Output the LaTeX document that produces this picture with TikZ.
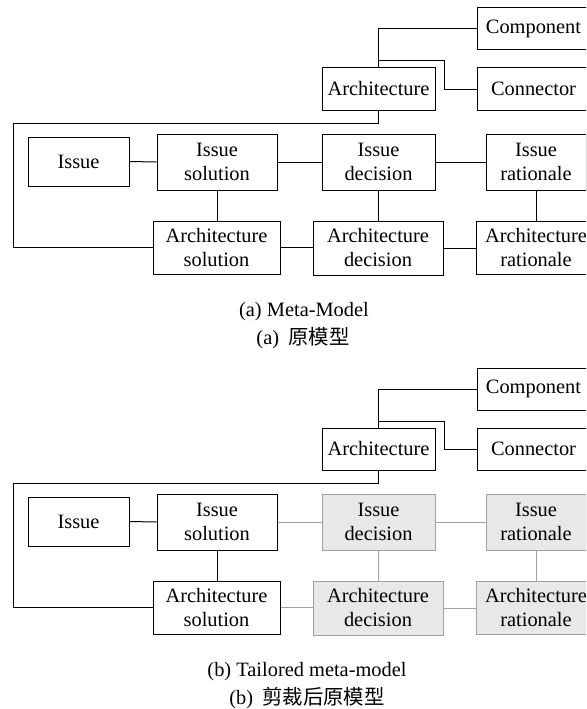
\documentclass[tikz,border=0pt]{standalone}
\usepackage{fontspec}
\setmainfont{Liberation Serif}
\newfontfamily\cjk{Noto Sans CJK SC}
\definecolor{tailorfill}{HTML}{E8E8E8}
\definecolor{tailorline}{HTML}{A0A0A0}
\tikzset{
  elem/.style={draw=black, line width=1pt, fill=white, inner sep=0pt, align=center,
    font=\fontsize{20.4}{24}\selectfont},
  link/.style={draw=black, line width=1pt},
  kept/.style={},
  cut/.style={draw=tailorline, fill=tailorfill},
  keptlink/.style={},
  cutlink/.style={draw=tailorline},
  caption/.style={anchor=base, inner sep=0pt, font=\fontsize{20.4}{24}\selectfont},
}
% #1 node prefix, #2 style of the decision/rationale boxes, #3 style of their links
\newcommand\metamodelpanel[3]{%
  \node[elem, minimum width=113pt, minimum height=42pt] (#1arch) at (378.5,89) {Architecture};
  \node[elem, minimum width=113pt, minimum height=42pt] (#1comp) at (533.5,29) {Component};
  \node[elem, minimum width=113pt, minimum height=42pt] (#1conn) at (533.5,89) {Connector};
  \node[elem, minimum width=101pt, minimum height=49pt] (#1issue) at (78.5,161.5) {Issue};
  \node[elem, minimum width=120pt, minimum height=56pt] (#1isol) at (217,162) {Issue\\solution};
  \node[elem, #2, minimum width=113pt, minimum height=56pt] (#1idec) at (378.5,162) {Issue\\decision};
  \node[elem, #2, minimum width=100pt, minimum height=56pt] (#1irat) at (536,162) {Issue\\rationale};
  \node[elem, minimum width=127pt, minimum height=53pt] (#1asol) at (216.5,247.5) {Architecture\\solution};
  \node[elem, #2, minimum width=130pt, minimum height=54pt] (#1adec) at (378,248) {Architecture\\decision};
  \node[elem, #2, minimum width=120pt, minimum height=53pt] (#1arat) at (536,247.5) {Architecture\\rationale};
  \coordinate (#1bend) at (444.5,61);
  \coordinate (#1loop) at (13.5,123);
  \draw[link] (#1arch.north) |- (#1comp.west);
  \draw[link] (#1arch.north |- #1bend) -- (#1bend) |- (#1conn.west);
  \draw[link] (#1arch.south) |- (#1loop) |- (#1asol.west);
  \draw[link] (#1issue.east) -- (#1isol.west);
  \draw[link] (#1isol.south) -- (#1isol.south |- #1asol.north);
  \draw[link, #3] (#1isol.east) -- (#1isol.east -| #1idec.west);
  \draw[link, #3] (#1idec.east) -- (#1idec.east -| #1irat.west);
  \draw[link, #3] (#1idec.south) -- (#1idec.south |- #1adec.north);
  \draw[link, #3] (#1irat.south) -- (#1irat.south |- #1arat.north);
  \draw[link, #3] (#1asol.east) -- (#1asol.east -| #1adec.west);
  \draw[link, #3] (#1adec.east) -- (#1adec.east -| #1arat.west);
}
\begin{document}
\begin{tikzpicture}[x=1pt, y=-1pt]
  \useasboundingbox (0,0) rectangle (586,709);
  \clip (0,0) rectangle (586,709);
  \fill[white] (0,0) rectangle (586,709);
  % (a) full meta-model
  \metamodelpanel{a-}{kept}{keptlink}
  \node[caption] (a-cap) at (304,316) {(a) Meta-Model};
  \node[caption] (a-capzh) at (303,344) {(a)\hspace{0.45em}{\cjk 原模型}};
  % (b) tailored meta-model: removed elements greyed out
  \begin{scope}[shift={(0,360)}]
    \metamodelpanel{b-}{cut}{cutlink}
    \node[caption] (b-cap) at (307,316) {(b) Tailored meta-model};
    \node[caption] (b-capzh) at (307,344) {(b)\hspace{0.45em}{\cjk 剪裁后原模型}};
  \end{scope}
\end{tikzpicture}
\end{document}
